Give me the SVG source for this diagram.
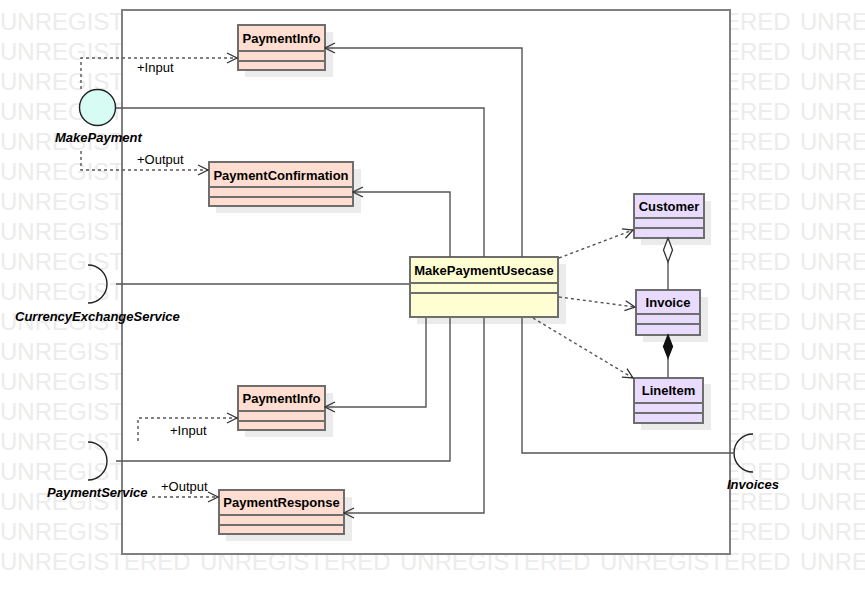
<svg xmlns="http://www.w3.org/2000/svg" width="865" height="594" viewBox="0 0 865 594">
<style>
  .wm { font-family: "Liberation Sans", Arial, sans-serif; font-size: 24px; fill: #ececec; }
  .frame { fill: #ffffff; stroke: #808080; stroke-width: 2; }
  .shadow { fill: #ebebeb; }
  .cls { stroke: #6e6e6e; stroke-width: 2; }
  .sep { stroke: #6e6e6e; stroke-width: 2; fill: none; }
  .io { fill: #ffded1; }
  .uc { fill: #fffed3; }
  .ent { fill: #e8dbfd; }
  .name { font-family: "Liberation Sans", Arial, sans-serif; font-size: 13px; font-weight: bold; fill: #000; text-anchor: middle; }
  .lbl { font-family: "Liberation Sans", Arial, sans-serif; font-size: 13px; fill: #000; }
  .port { font-family: "Liberation Sans", Arial, sans-serif; font-size: 13px; font-weight: bold; font-style: italic; fill: #000; }
  .line { fill: none; stroke: #555555; stroke-width: 1.4; }
  .dash { fill: none; stroke: #555555; stroke-width: 1.4; stroke-dasharray: 3 3; }
  .sock { fill: none; stroke: #222222; stroke-width: 1.4; }
</style>
<defs>
  <marker id="open" markerWidth="12" markerHeight="12" refX="11" refY="6" orient="auto" markerUnits="userSpaceOnUse">
    <path d="M1,1 L11,6 L1,11" fill="none" stroke="#333333" stroke-width="1.3" stroke-dasharray="none"/>
  </marker>
</defs>

<!-- watermark rows -->
<g id="watermark">
  <text class="wm" x="0" y="30">UNREGISTERED</text><text class="wm" x="200" y="30">UNREGISTERED</text><text class="wm" x="400" y="30">UNREGISTERED</text><text class="wm" x="600" y="30">UNREGISTERED</text><text class="wm" x="800" y="30">UNREGISTERED</text>
  <text class="wm" x="0" y="60">UNREGISTERED</text><text class="wm" x="200" y="60">UNREGISTERED</text><text class="wm" x="400" y="60">UNREGISTERED</text><text class="wm" x="600" y="60">UNREGISTERED</text><text class="wm" x="800" y="60">UNREGISTERED</text>
  <text class="wm" x="0" y="90">UNREGISTERED</text><text class="wm" x="200" y="90">UNREGISTERED</text><text class="wm" x="400" y="90">UNREGISTERED</text><text class="wm" x="600" y="90">UNREGISTERED</text><text class="wm" x="800" y="90">UNREGISTERED</text>
  <text class="wm" x="0" y="120">UNREGISTERED</text><text class="wm" x="200" y="120">UNREGISTERED</text><text class="wm" x="400" y="120">UNREGISTERED</text><text class="wm" x="600" y="120">UNREGISTERED</text><text class="wm" x="800" y="120">UNREGISTERED</text>
  <text class="wm" x="0" y="150">UNREGISTERED</text><text class="wm" x="200" y="150">UNREGISTERED</text><text class="wm" x="400" y="150">UNREGISTERED</text><text class="wm" x="600" y="150">UNREGISTERED</text><text class="wm" x="800" y="150">UNREGISTERED</text>
  <text class="wm" x="0" y="180">UNREGISTERED</text><text class="wm" x="200" y="180">UNREGISTERED</text><text class="wm" x="400" y="180">UNREGISTERED</text><text class="wm" x="600" y="180">UNREGISTERED</text><text class="wm" x="800" y="180">UNREGISTERED</text>
  <text class="wm" x="0" y="210">UNREGISTERED</text><text class="wm" x="200" y="210">UNREGISTERED</text><text class="wm" x="400" y="210">UNREGISTERED</text><text class="wm" x="600" y="210">UNREGISTERED</text><text class="wm" x="800" y="210">UNREGISTERED</text>
  <text class="wm" x="0" y="240">UNREGISTERED</text><text class="wm" x="200" y="240">UNREGISTERED</text><text class="wm" x="400" y="240">UNREGISTERED</text><text class="wm" x="600" y="240">UNREGISTERED</text><text class="wm" x="800" y="240">UNREGISTERED</text>
  <text class="wm" x="0" y="270">UNREGISTERED</text><text class="wm" x="200" y="270">UNREGISTERED</text><text class="wm" x="400" y="270">UNREGISTERED</text><text class="wm" x="600" y="270">UNREGISTERED</text><text class="wm" x="800" y="270">UNREGISTERED</text>
  <text class="wm" x="0" y="300">UNREGISTERED</text><text class="wm" x="200" y="300">UNREGISTERED</text><text class="wm" x="400" y="300">UNREGISTERED</text><text class="wm" x="600" y="300">UNREGISTERED</text><text class="wm" x="800" y="300">UNREGISTERED</text>
  <text class="wm" x="0" y="330">UNREGISTERED</text><text class="wm" x="200" y="330">UNREGISTERED</text><text class="wm" x="400" y="330">UNREGISTERED</text><text class="wm" x="600" y="330">UNREGISTERED</text><text class="wm" x="800" y="330">UNREGISTERED</text>
  <text class="wm" x="0" y="360">UNREGISTERED</text><text class="wm" x="200" y="360">UNREGISTERED</text><text class="wm" x="400" y="360">UNREGISTERED</text><text class="wm" x="600" y="360">UNREGISTERED</text><text class="wm" x="800" y="360">UNREGISTERED</text>
  <text class="wm" x="0" y="390">UNREGISTERED</text><text class="wm" x="200" y="390">UNREGISTERED</text><text class="wm" x="400" y="390">UNREGISTERED</text><text class="wm" x="600" y="390">UNREGISTERED</text><text class="wm" x="800" y="390">UNREGISTERED</text>
  <text class="wm" x="0" y="420">UNREGISTERED</text><text class="wm" x="200" y="420">UNREGISTERED</text><text class="wm" x="400" y="420">UNREGISTERED</text><text class="wm" x="600" y="420">UNREGISTERED</text><text class="wm" x="800" y="420">UNREGISTERED</text>
  <text class="wm" x="0" y="450">UNREGISTERED</text><text class="wm" x="200" y="450">UNREGISTERED</text><text class="wm" x="400" y="450">UNREGISTERED</text><text class="wm" x="600" y="450">UNREGISTERED</text><text class="wm" x="800" y="450">UNREGISTERED</text>
  <text class="wm" x="0" y="480">UNREGISTERED</text><text class="wm" x="200" y="480">UNREGISTERED</text><text class="wm" x="400" y="480">UNREGISTERED</text><text class="wm" x="600" y="480">UNREGISTERED</text><text class="wm" x="800" y="480">UNREGISTERED</text>
  <text class="wm" x="0" y="510">UNREGISTERED</text><text class="wm" x="200" y="510">UNREGISTERED</text><text class="wm" x="400" y="510">UNREGISTERED</text><text class="wm" x="600" y="510">UNREGISTERED</text><text class="wm" x="800" y="510">UNREGISTERED</text>
  <text class="wm" x="0" y="540">UNREGISTERED</text><text class="wm" x="200" y="540">UNREGISTERED</text><text class="wm" x="400" y="540">UNREGISTERED</text><text class="wm" x="600" y="540">UNREGISTERED</text><text class="wm" x="800" y="540">UNREGISTERED</text>
  <text class="wm" x="0" y="570">UNREGISTERED</text><text class="wm" x="200" y="570">UNREGISTERED</text><text class="wm" x="400" y="570">UNREGISTERED</text><text class="wm" x="600" y="570">UNREGISTERED</text><text class="wm" x="800" y="570">UNREGISTERED</text>
</g>

<!-- component boundary -->
<rect id="boundary" class="frame" x="122" y="10" width="608" height="544"/>

<!-- interface symbols -->
<g id="MakePayment">
  <circle cx="97.5" cy="107.5" r="18" fill="#d6fcf4" stroke="#222222" stroke-width="1.4"/>
  <text class="port" x="55" y="142">MakePayment</text>
</g>
<g id="CurrencyExchangeService">
  <path class="sock" d="M88,265 A19,19 0 0 1 88,303"/>
  <text class="port" x="15" y="321">CurrencyExchangeService</text>
</g>
<g id="PaymentService">
  <path class="sock" d="M88,442 A19,19 0 0 1 88,480"/>
  <text class="port" x="47" y="497">PaymentService</text>
</g>
<g id="Invoices">
  <path class="sock" d="M753,434 A19,19 0 0 0 753,472"/>
  <text class="port" x="727" y="489">Invoices</text>
</g>

<!-- classes -->
<g id="PaymentInfoIn">
  <rect class="shadow" x="245" y="32" width="88" height="45"/>
  <rect class="cls io" x="238" y="25" width="87" height="45"/>
  <path class="sep" d="M238,51 H325 M238,61 H325"/>
  <text class="name" x="281.5" y="43">PaymentInfo</text>
</g>
<g id="PaymentConfirmation">
  <rect class="shadow" x="216" y="169" width="145" height="44"/>
  <rect class="cls io" x="209" y="162" width="144" height="44"/>
  <path class="sep" d="M209,187 H353 M209,197 H353"/>
  <text class="name" x="281" y="180">PaymentConfirmation</text>
</g>
<g id="PaymentInfoOut">
  <rect class="shadow" x="245" y="393" width="88" height="44"/>
  <rect class="cls io" x="238" y="386" width="87" height="44"/>
  <path class="sep" d="M238,411 H325 M238,421 H325"/>
  <text class="name" x="281.5" y="403">PaymentInfo</text>
</g>
<g id="PaymentResponse">
  <rect class="shadow" x="226" y="497" width="126" height="44"/>
  <rect class="cls io" x="219" y="490" width="125" height="44"/>
  <path class="sep" d="M219,515 H344 M219,525 H344"/>
  <text class="name" x="281.5" y="507">PaymentResponse</text>
</g>
<g id="MakePaymentUsecase">
  <rect class="shadow" x="417" y="264" width="149" height="60"/>
  <rect class="cls uc" x="410" y="257" width="148" height="60"/>
  <path class="sep" d="M410,283 H558 M410,293 H558"/>
  <text class="name" x="484" y="275">MakePaymentUsecase</text>
</g>
<g id="Customer">
  <rect class="shadow" x="641" y="201" width="70" height="44"/>
  <rect class="cls ent" x="634" y="194" width="70" height="44"/>
  <path class="sep" d="M634,218 H704 M634,228 H704"/>
  <text class="name" x="669" y="211">Customer</text>
</g>
<g id="Invoice">
  <rect class="shadow" x="643" y="297" width="65" height="45"/>
  <rect class="cls ent" x="636" y="290" width="64" height="45"/>
  <path class="sep" d="M636,314 H700 M636,324 H700"/>
  <text class="name" x="668" y="307">Invoice</text>
</g>
<g id="LineItem">
  <rect class="shadow" x="641" y="384" width="70" height="46"/>
  <rect class="cls ent" x="634" y="378" width="69" height="45"/>
  <path class="sep" d="M634,403 H703 M634,413 H703"/>
  <text class="name" x="668.5" y="395">LineItem</text>
</g>

<!-- connectors, drawn over the drop shadows -->
<g id="connectors">
  <!-- provided interface MakePayment -->
  <path class="line" d="M116,108 H484 V257"/>
  <path class="dash" d="M81,89 V58 H237" marker-end="url(#open)"/>
  <path class="dash" d="M81,151 V170 H208" marker-end="url(#open)"/>
  <!-- usecase to payment info / confirmation -->
  <path class="line" d="M522,257 V48 H325" marker-end="url(#open)"/>
  <path class="line" d="M450,257 V192 H353" marker-end="url(#open)"/>
  <!-- required interfaces -->
  <path class="line" d="M116,284 H409"/>
  <path class="line" d="M116,461 H450 V318"/>
  <path class="line" d="M522,318 V453 H734"/>
  <path class="line" d="M426,318 V407 H325" marker-end="url(#open)"/>
  <path class="line" d="M484,318 V513 H344" marker-end="url(#open)"/>
  <path class="dash" d="M138,441 V418 H237" marker-end="url(#open)"/>
  <path class="dash" d="M152,497 H218" marker-end="url(#open)"/>
  <!-- dependencies on entities -->
  <path class="dash" d="M559,258 L633,230" marker-end="url(#open)"/>
  <path class="dash" d="M559,297 L635,307" marker-end="url(#open)"/>
  <path class="dash" d="M533,318 L633,378" marker-end="url(#open)"/>
  <!-- aggregation / composition -->
  <path class="line" d="M668,262 V290"/>
  <path d="M668,238 L672.5,250 L668,262 L663.5,250 Z" fill="#ffffff" stroke="#333333" stroke-width="1.3"/>
  <path class="line" d="M668,358 V377"/>
  <path d="M668,335 L672.5,346.5 L668,358 L663.5,346.5 Z" fill="#111111" stroke="#111111" stroke-width="1.3"/>
  <!-- labels -->
  <text class="lbl" x="137" y="72">+Input</text>
  <text class="lbl" x="137" y="164">+Output</text>
  <text class="lbl" x="170" y="435">+Input</text>
  <text class="lbl" x="161" y="491">+Output</text>
</g>
</svg>
